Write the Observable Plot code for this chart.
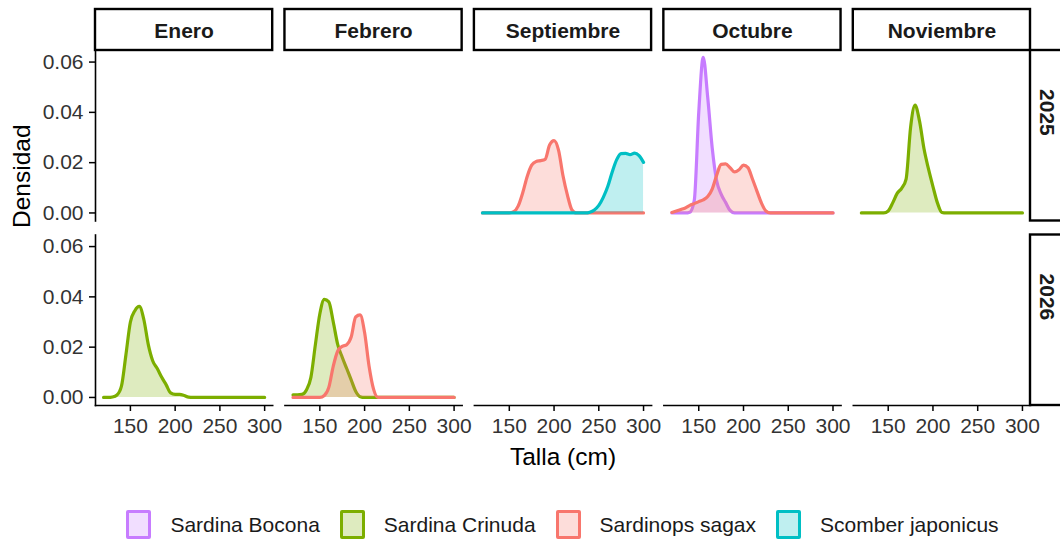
<!DOCTYPE html>
<html>
<head>
<meta charset="utf-8">
<script src="https://cdn.jsdelivr.net/npm/d3@7"></script>
<script src="https://cdn.jsdelivr.net/npm/@observablehq/plot@0.6"></script>
<style>
  html, body { margin: 0; padding: 0; background: #fff; overflow: hidden; width: 1060px; height: 541px; }
  #wrap { position: relative; width: 1060px; height: 541px; }
  #legend { position: absolute; top: 510px; left: 95px; width: 935px; display: flex; justify-content: center; align-items: center;
            font-family: "Liberation Sans", Arial, sans-serif; font-size: 21px; color: #1a1a1a; }
  .item { display: flex; align-items: center; margin: 0 10px; }
  .sw { width: 19px; height: 23px; border: 3px solid; border-radius: 2px; margin-right: 19px; }
</style>
</head>
<body>
<div id="wrap"><div id="chart"></div><div id="legend"></div></div>
<script>
// ---------- data ----------
const months = ["Enero", "Febrero", "Septiembre", "Octubre", "Noviembre"];
const years = ["2025", "2026"];
const species = ["Sardina Bocona", "Sardina Crinuda", "Sardinops sagax", "Scomber japonicus"];
const speciesColors = ["#C77CFF", "#7CAE00", "#F8766D", "#00BFC4"];
const xTicks = [150, 200, 250, 300];
const yTicks = [0, 0.02, 0.04, 0.06];

// talla grid (cm)
const talla = [120, 125, 130, 135, 140, 145, 150, 155, 160, 165, 170, 175, 180, 185, 190, 195,
               200, 205, 210, 215, 220, 225, 230, 235, 240, 245, 250, 255, 260, 265, 270, 275,
               280, 285, 290, 295, 300];

// densities
const septiembre2025Sagax   = [0, 0, 0, 0, 0, 0, 0, 0.0005, 0.0028, 0.008, 0.0145, 0.019, 0.0205, 0.0208, 0.0213, 0.027,
                               0.0288, 0.025, 0.0148, 0.007, 0.0012, 0, 0, 0, 0, 0, 0, 0, 0, 0, 0, 0, 0, 0, 0, 0, 0];
const septiembre2025Scomber = [0, 0, 0, 0, 0, 0, 0, 0, 0, 0, 0, 0, 0, 0, 0, 0,
                               0, 0, 0, 0, 0, 0, 0, 0, 0.0003, 0.0012, 0.003, 0.0062, 0.0105, 0.0163, 0.0212, 0.0236,
                               0.0237, 0.0232, 0.0238, 0.0228, 0.0201];
const octubre2025Bocona     = [0, 0, 0, 0, 0.0003, 0.005, 0.040, 0.0619, 0.046, 0.026, 0.0128, 0.0075, 0.0042, 0.001, 0, 0,
                               0, 0, 0, 0, 0, 0, 0, 0, 0, 0, 0, 0, 0, 0, 0, 0, 0, 0, 0, 0, 0];
const octubre2025Sagax      = [0.0002, 0.0008, 0.0014, 0.002, 0.003, 0.0037, 0.0045, 0.0052, 0.0065, 0.0095, 0.015, 0.0193, 0.0195, 0.018, 0.0163, 0.0172,
                               0.019, 0.018, 0.0135, 0.0087, 0.004, 0.0008, 0, 0, 0, 0, 0, 0, 0, 0, 0, 0, 0, 0, 0, 0, 0];
const noviembre2025Crinuda  = [0, 0, 0, 0, 0, 0, 0.0008, 0.004, 0.0078, 0.0098, 0.0135, 0.034, 0.0429, 0.0365, 0.0255, 0.0175,
                               0.0105, 0.004, 0.0002, 0, 0, 0, 0, 0, 0, 0, 0, 0, 0, 0, 0, 0, 0, 0, 0, 0, 0];
const enero2026Crinuda      = [0, 0, 0.0002, 0.001, 0.0045, 0.017, 0.030, 0.0345, 0.0362, 0.031, 0.021, 0.0145, 0.0115, 0.008, 0.005, 0.0018,
                               0.0012, 0.0012, 0.0008, 0.0001, 0, 0, 0, 0, 0, 0, 0, 0, 0, 0, 0, 0, 0, 0, 0, 0, 0];
const febrero2026Crinuda    = [0.001, 0.001, 0.0012, 0.003, 0.008, 0.021, 0.0333, 0.039, 0.038, 0.030, 0.021, 0.016, 0.0115, 0.007, 0.0025, 0.0003,
                               0, 0, 0, 0, 0, 0, 0, 0, 0, 0, 0, 0, 0, 0, 0, 0, 0, 0, 0, 0, 0];
const febrero2026Sagax      = [0, 0, 0, 0, 0, 0, 0, 0.0008, 0.004, 0.0125, 0.0185, 0.0203, 0.021, 0.024, 0.032, 0.0328,
                               0.0258, 0.0124, 0.0033, 0, 0, 0, 0, 0, 0, 0, 0, 0, 0, 0, 0, 0, 0, 0, 0, 0, 0];

const curves = [
  {month: "Septiembre", year: "2025", species: "Sardinops sagax",   dens: septiembre2025Sagax},
  {month: "Septiembre", year: "2025", species: "Scomber japonicus", dens: septiembre2025Scomber},
  {month: "Octubre",    year: "2025", species: "Sardina Bocona",    dens: octubre2025Bocona},
  {month: "Octubre",    year: "2025", species: "Sardinops sagax",   dens: octubre2025Sagax},
  {month: "Noviembre",  year: "2025", species: "Sardina Crinuda",   dens: noviembre2025Crinuda},
  {month: "Enero",      year: "2026", species: "Sardina Crinuda",   dens: enero2026Crinuda},
  {month: "Febrero",    year: "2026", species: "Sardina Crinuda",   dens: febrero2026Crinuda},
  {month: "Febrero",    year: "2026", species: "Sardinops sagax",   dens: febrero2026Sagax}
];

// ---------- build table ----------
const rows = curves.flatMap(c => talla.map((t, i) => ({month: c.month, year: c.year, species: c.species, talla: t, dens: c.dens[i]})));
const cells = months.flatMap(m => years.map(y => ({month: m, year: y})));

// ---------- layout ----------
const W = 1060, H = 470;
const mT = 50, mB = 65, mL = 95, mR = 30;
const padX = 0.0647, padY = 0.0759;
const panelW = ((W - mL - mR) / (months.length - padX)) * (1 - padX);
const panelH = ((H - mT - mB) / (years.length - padY)) * (1 - padY);
const FONT = "'Liberation Sans', Arial, sans-serif";

const densMarks = [];
species.forEach((sp, i) => {
  const d = rows.filter(r => r.species === sp);
  densMarks.push(Plot.areaY(d, {x: "talla", y: "dens", fx: "month", fy: "year", fill: speciesColors[i], fillOpacity: 0.25, curve: "monotone-x"}));
  densMarks.push(Plot.lineY(d, {x: "talla", y: "dens", fx: "month", fy: "year", stroke: speciesColors[i], strokeWidth: 3.2, curve: "monotone-x"}));
});

const chart = Plot.plot({
  width: W, height: H,
  marginTop: mT, marginBottom: mB, marginLeft: mL, marginRight: mR,
  style: {fontFamily: FONT, background: "white", overflow: "visible"},
  fx: {domain: months, paddingInner: padX, paddingOuter: 0, round: false, axis: null, label: null},
  fy: {domain: years, paddingInner: padY, paddingOuter: 0, round: false, axis: null, label: null},
  x: {domain: [111, 309], axis: null},
  y: {domain: [-0.0032, 0.0646], axis: null},
  marks: [
    Plot.rect(cells, {fx: "month", fy: "year", fill: "none", stroke: "none"}),
    ...densMarks,
    Plot.frame({anchor: "left", facetAnchor: "left", stroke: "black", strokeWidth: 1.6}),
    Plot.frame({anchor: "bottom", facetAnchor: "bottom", stroke: "black", strokeWidth: 1.6}),
    Plot.axisX({ticks: xTicks, facetAnchor: "bottom", tickSize: 6, tickPadding: 7, fontSize: 21, label: null, stroke: "black", strokeWidth: 1.5, color: "#333"}),
    Plot.axisY({ticks: yTicks, tickFormat: d3.format(".2f"), facetAnchor: "left", tickSize: 6, tickPadding: 6, fontSize: 21, label: null, stroke: "black", strokeWidth: 1.5, color: "#333"}),
    // column strips
    Plot.rect(months, {fx: d => d, fy: () => years[0], fill: "white", stroke: "black", strokeWidth: 2.4, insetTop: -41, insetBottom: panelH}),
    Plot.text(months, {fx: d => d, fy: () => years[0], text: d => d, frameAnchor: "top", lineAnchor: "middle", dy: -19.5, fontSize: 21, fontWeight: "bold", fill: "#1a1a1a"}),
    // row strips
    Plot.rect(years, {fx: () => months[months.length - 1], fy: d => d, fill: "white", stroke: "black", strokeWidth: 2.4, insetLeft: panelW, insetRight: -40}),
    Plot.text(years, {fx: () => months[months.length - 1], fy: d => d, text: d => d, frameAnchor: "right", lineAnchor: "middle", dx: 16, rotate: 90, fontSize: 21, fontWeight: "bold", fill: "#1a1a1a"}),
    // axis titles
    Plot.text(["Talla (cm)"], {facet: "super", text: d => d, frameAnchor: "bottom", lineAnchor: "middle", dy: 52, fontSize: 24.5, fill: "#000"}),
    Plot.text(["Densidad"], {facet: "super", text: d => d, frameAnchor: "left", lineAnchor: "middle", dx: -73, rotate: -90, fontSize: 24.5, fill: "#000"})
  ]
});
document.getElementById("chart").appendChild(chart);

// ---------- legend ----------
const legend = document.getElementById("legend");
species.forEach((sp, i) => {
  const item = document.createElement("div");
  item.className = "item";
  const sw = document.createElement("div");
  sw.className = "sw";
  sw.style.borderColor = speciesColors[i];
  const c = d3.color(speciesColors[i]); c.opacity = 0.25;
  sw.style.background = c.formatRgb();
  const lab = document.createElement("span");
  lab.textContent = sp;
  item.appendChild(sw); item.appendChild(lab);
  legend.appendChild(item);
});
</script>
</body>
</html>
